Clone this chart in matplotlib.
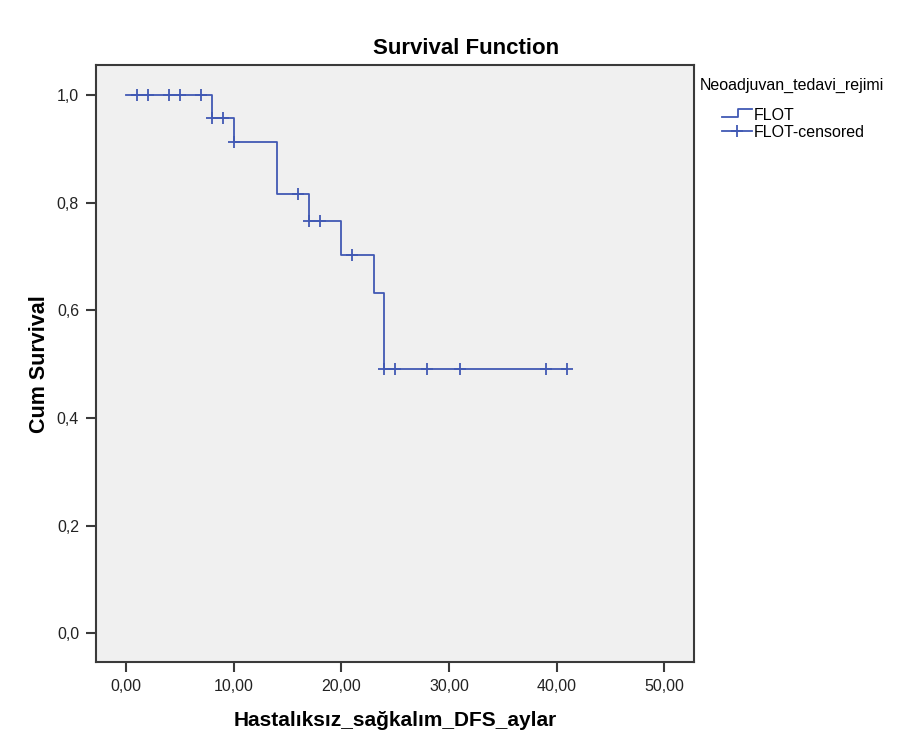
import matplotlib
matplotlib.use("Agg")
import matplotlib.pyplot as plt
from matplotlib.lines import Line2D
from matplotlib.legend_handler import HandlerBase

plt.rcParams["font.family"] = ["Liberation Sans", "DejaVu Sans"]

# Kaplan-Meier steps
step_times = [0, 8, 10, 14, 17, 20, 23, 24, 41]
step_surv = [1.0, 0.958, 0.913, 0.817, 0.766, 0.702, 0.632, 0.491, 0.491]

# censored cases
cens_times = [1, 2, 4, 5, 7, 8, 9, 10, 16, 17, 18, 21, 24, 25, 28, 31, 39, 41]
cens_surv = [1.0, 1.0, 1.0, 1.0, 1.0, 0.958, 0.958, 0.913, 0.817, 0.766,
             0.766, 0.702, 0.491, 0.491, 0.491, 0.491, 0.491, 0.491]

x_ticks = [0, 10, 20, 30, 40, 50]
x_labels = ["0,00", "10,00", "20,00", "30,00", "40,00", "50,00"]
y_ticks = [0.0, 0.2, 0.4, 0.6, 0.8, 1.0]
y_labels = ["0,0", "0,2", "0,4", "0,6", "0,8", "1,0"]

blue = "#4159b4"
frame = "#3a3a3a"


class StepHandler(HandlerBase):
    """legend icon drawn as a small step"""
    def create_artists(self, legend, orig_handle, xdescent, ydescent,
                       width, height, fontsize, trans):
        x0 = -xdescent
        xs = [x0, x0 + 0.55 * width, x0 + 0.55 * width, x0 + width]
        ys = [-ydescent + 0.25 * height, -ydescent + 0.25 * height,
              -ydescent + 0.95 * height, -ydescent + 0.95 * height]
        ln = Line2D(xs, ys, color=orig_handle.get_color(),
                    lw=orig_handle.get_linewidth())
        ln.set_transform(trans)
        return [ln]


fig = plt.figure(figsize=(9.16, 7.42), dpi=100)
ax = fig.add_axes([0.1045, 0.1074, 0.6535, 0.805])
ax.set_facecolor("#f0f0f0")

step_line, = ax.step(step_times, step_surv, where="post", color=blue, lw=1.3)
cens_line, = ax.plot(cens_times, cens_surv, ls="none", marker="+",
                     markersize=9, markeredgewidth=1.3, color=blue)

ax.set_xlim(-2.81, 52.79)
ax.set_ylim(-0.054, 1.056)
ax.set_xticks(x_ticks)
ax.set_xticklabels(x_labels)
ax.set_yticks(y_ticks)
ax.set_yticklabels(y_labels)
ax.tick_params(axis="both", direction="out", length=7, width=1.5,
               color=frame, labelsize=11.5, labelcolor="#222222", pad=5)

for s in ax.spines.values():
    s.set_color(frame)
    s.set_linewidth(1.5)

ax.set_xlabel("Hastalıksız_sağkalım_DFS_aylar", fontsize=15,
              fontweight="bold", labelpad=12)
ax.set_ylabel("Cum Survival", fontsize=15.5, fontweight="bold", labelpad=5)
fig.text(0.509, 0.935, "Survival Function", ha="center", va="center",
         fontsize=16, fontweight="bold")

fig.text(0.764, 0.885, "Neoadjuvan_tedavi_rejimi", ha="left", va="center",
         fontsize=11.5)
fig.legend([step_line, Line2D([], [], color=blue, lw=1.3, marker="+",
                              markersize=9, markeredgewidth=1.3)],
           ["FLOT", "FLOT-censored"],
           handler_map={step_line: StepHandler()},
           loc="upper left", bbox_to_anchor=(0.788, 0.855),
           frameon=False, fontsize=11.5, handlelength=1.9,
           handletextpad=0.1, labelspacing=0.15, borderpad=0,
           borderaxespad=0)

fig.savefig("out.png", dpi=100)
